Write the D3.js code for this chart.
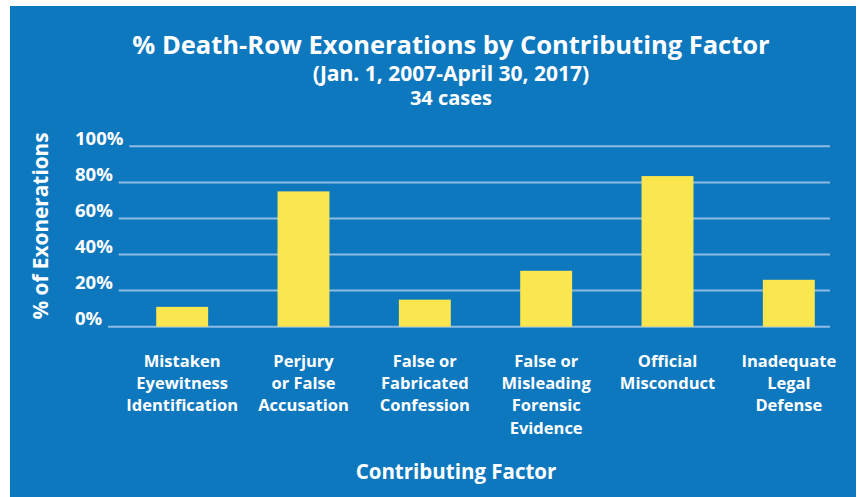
<!DOCTYPE html>
<html>
<head>
<meta charset="utf-8">
<script src="https://cdn.jsdelivr.net/npm/d3@7/dist/d3.min.js"></script>
<style>
  html, body { margin: 0; padding: 0; background: #ffffff; }
  svg { display: block; }
  text { font-family: "Open Sans", Lato, sans-serif; font-weight: bold; fill: #ffffff; }
</style>
</head>
<body>
<svg id="chart" width="860" height="497"></svg>
<script>
const titleText = "% Death-Row Exonerations by Contributing Factor";
const subtitleLines = ["(Jan. 1, 2007-April 30, 2017)", "34 cases"];
const categories = [
  "Mistaken Eyewitness Identification",
  "Perjury or False Accusation",
  "False or Fabricated Confession",
  "False or Misleading Forensic Evidence",
  "Official Misconduct",
  "Inadequate Legal Defense"
];
const categoryLabelLines = [
  ["Mistaken", "Eyewitness", "Identification"],
  ["Perjury", "or False", "Accusation"],
  ["False or", "Fabricated", "Confession"],
  ["False or", "Misleading", "Forensic", "Evidence"],
  ["Official", "Misconduct"],
  ["Inadequate", "Legal", "Defense"]
];
const values = [11, 75, 15, 31, 83.5, 26];
const yTicks = [0, 20, 40, 60, 80, 100];
const yTickLabels = ["0%", "20%", "40%", "60%", "80%", "100%"];
const yAxisTitle = "% of Exonerations";
const xAxisTitle = "Contributing Factor";

const svg = d3.select("#chart");

svg.append("rect")
  .attr("x", 10).attr("y", 6)
  .attr("width", 846).attr("height", 497)
  .attr("fill", "#0e78bf");

const x = d3.scaleBand()
  .domain(categories)
  .range([121.5, 849.5])
  .paddingInner(0.572)
  .paddingOuter(0.286);

const y = d3.scaleLinear().domain([0, 100]).range([326.7, 146.3]);

// Tick labels and gridlines
const tickG = svg.append("g");
yTicks.forEach((t, i) => {
  const lbl = tickG.append("text")
    .attr("x", 75)
    .attr("y", y(t) - 1.5)
    .attr("font-size", 18.5)
    .text(yTickLabels[i]);
  const bb = lbl.node().getBBox();
  tickG.append("line")
    .attr("x1", bb.x + bb.width + 5.5)
    .attr("x2", 830)
    .attr("y1", y(t)).attr("y2", y(t))
    .attr("stroke", "#8ebbe2")
    .attr("stroke-width", 2);
});

// Bars
svg.append("g").selectAll("rect")
  .data(values)
  .join("rect")
  .attr("x", (d, i) => x(categories[i]))
  .attr("width", x.bandwidth())
  .attr("y", d => y(d))
  .attr("height", d => y(0) - y(d))
  .attr("fill", "#fae64e");

// Category labels
const catG = svg.append("g");
categoryLabelLines.forEach((lines, i) => {
  const cx = x(categories[i]) + x.bandwidth() / 2;
  const t = catG.append("text")
    .attr("text-anchor", "middle")
    .attr("font-size", 16.5);
  lines.forEach((ln, j) => {
    t.append("tspan")
      .attr("x", cx)
      .attr("y", 366.5 + j * 22.4)
      .text(ln);
  });
});

// Axis titles
svg.append("text")
  .attr("text-anchor", "middle")
  .attr("x", 456).attr("y", 478.5)
  .attr("font-size", 20.5)
  .text(xAxisTitle);

svg.append("text")
  .attr("text-anchor", "middle")
  .attr("transform", "translate(48,226) rotate(-90)")
  .attr("font-size", 20.8)
  .text(yAxisTitle);

// Titles
svg.append("text")
  .attr("text-anchor", "middle")
  .attr("x", 451).attr("y", 53.5)
  .attr("font-size", 25.5)
  .text(titleText);

svg.append("text")
  .attr("text-anchor", "middle")
  .attr("x", 451).attr("y", 80.5)
  .attr("font-size", 21)
  .text(subtitleLines[0]);

svg.append("text")
  .attr("text-anchor", "middle")
  .attr("x", 451).attr("y", 105)
  .attr("font-size", 20)
  .text(subtitleLines[1]);
</script>
</body>
</html>
